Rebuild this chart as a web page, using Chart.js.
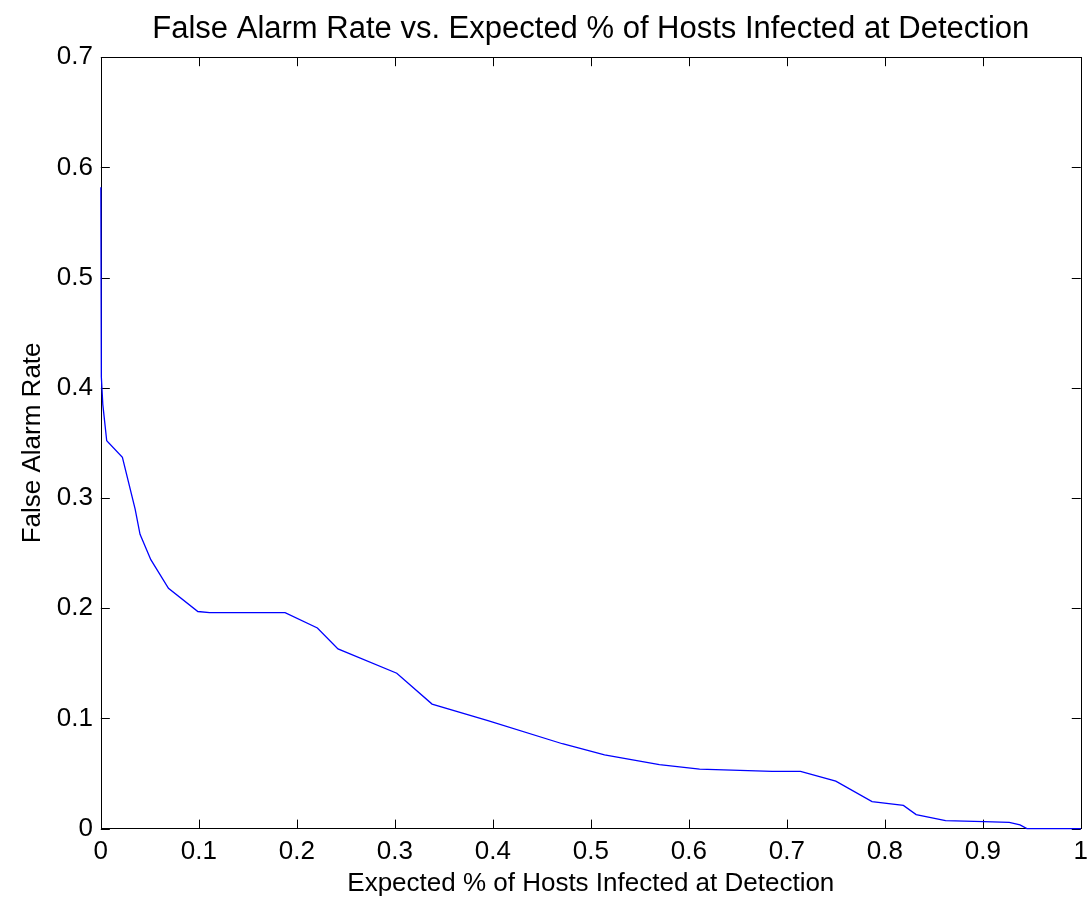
<!DOCTYPE html>
<html>
<head>
<meta charset="utf-8">
<script src="https://cdn.jsdelivr.net/npm/chart.js@4/dist/chart.umd.min.js"></script>
<style>
  body { margin:0; background:#fff; }
  #wrap { width:1088px; height:899px; }
</style>
</head>
<body>
<div id="wrap"><canvas id="chart" width="1088" height="899"></canvas></div>
<script>
const detectFrac = [0, 0.0005, 0.002, 0.006, 0.022, 0.035, 0.040, 0.051, 0.069, 0.099, 0.111, 0.188,
  0.221, 0.242, 0.302, 0.338, 0.395, 0.471, 0.514, 0.570, 0.611, 0.685, 0.714, 0.750,
  0.787, 0.819, 0.832, 0.862, 0.901, 0.927, 0.938, 0.945, 1.0];
const falseAlarm = [0.582, 0.41, 0.385, 0.352, 0.337, 0.290, 0.267, 0.244, 0.218, 0.197, 0.196, 0.196,
  0.182, 0.163, 0.141, 0.113, 0.098, 0.077, 0.067, 0.058, 0.054, 0.052, 0.052, 0.043,
  0.0245, 0.021, 0.0127, 0.0073, 0.0063, 0.0057, 0.0034, 0, 0];

const titleText = "False Alarm Rate vs. Expected % of Hosts Infected at Detection";
const xTitle = "Expected % of Hosts Infected at Detection";
const yTitle = "False Alarm Rate";

const FONT = "'Liberation Sans', Arial, Helvetica, sans-serif";

const pts = detectFrac.map((x, i) => ({ x, y: falseAlarm[i] }));

// matlab style box + inward ticks on all four sides, drawn under the line
const boxTicks = {
  id: "boxTicks",
  beforeDatasetsDraw(chart) {
    const { ctx, chartArea: a, scales } = chart;
    const len = 9;
    ctx.save();
    ctx.strokeStyle = "#000";
    ctx.lineWidth = 1;
    ctx.beginPath();
    scales.x.ticks.forEach((t, i) => {
      const px = Math.round(scales.x.getPixelForTick(i)) + 0.5;
      ctx.moveTo(px, a.bottom); ctx.lineTo(px, a.bottom - len);
      ctx.moveTo(px, a.top); ctx.lineTo(px, a.top + len);
    });
    scales.y.ticks.forEach((t, i) => {
      const py = Math.round(scales.y.getPixelForTick(i)) + 0.5;
      ctx.moveTo(a.left, py); ctx.lineTo(a.left + len, py);
      ctx.moveTo(a.right, py); ctx.lineTo(a.right - len, py);
    });
    ctx.stroke();
    ctx.strokeRect(Math.round(a.left) + 0.5, Math.round(a.top) + 0.5,
      Math.round(a.right - a.left), Math.round(a.bottom - a.top));
    ctx.restore();
  }
};

new Chart(document.getElementById("chart"), {
  type: "scatter",
  data: {
    datasets: [{
      data: pts,
      showLine: true,
      borderColor: "#0000ff",
      borderWidth: 1.3,
      pointRadius: 0,
      tension: 0,
      fill: false,
      clip: 4
    }]
  },
  options: {
    responsive: false,
    animation: false,
    layout: { padding: { top: 0, right: 6, bottom: 0, left: 17.5 } },
    plugins: {
      legend: { display: false },
      tooltip: { enabled: false },
      title: {
        display: true,
        text: titleText,
        fullSize: false,
        color: "#000",
        font: { family: FONT, size: 31, weight: "normal" },
        padding: { top: 11, bottom: 9 }
      }
    },
    scales: {
      x: {
        type: "linear",
        min: 0, max: 1,
        ticks: {
          stepSize: 0.1,
          color: "#000",
          font: { family: FONT, size: 26 },
          padding: 0,
          maxRotation: 0,
          callback: v => String(Number(v.toFixed(1)))
        },
        grid: { display: false, drawTicks: true, tickLength: 8 },
        border: { display: false },
        title: {
          display: true, text: xTitle, color: "#000",
          font: { family: FONT, size: 26 }, padding: { top: 0, bottom: 0 }
        }
      },
      y: {
        type: "linear",
        min: 0, max: 0.7,
        ticks: {
          stepSize: 0.1,
          color: "#000",
          font: { family: FONT, size: 26 },
          padding: 8,
          callback: v => String(Number(v.toFixed(1)))
        },
        grid: { display: false, drawTicks: false },
        border: { display: false },
        title: {
          display: true, text: yTitle, color: "#000",
          font: { family: FONT, size: 26 }, padding: { top: 0, bottom: 0 }
        }
      }
    }
  },
  plugins: [boxTicks]
});
</script>
</body>
</html>
